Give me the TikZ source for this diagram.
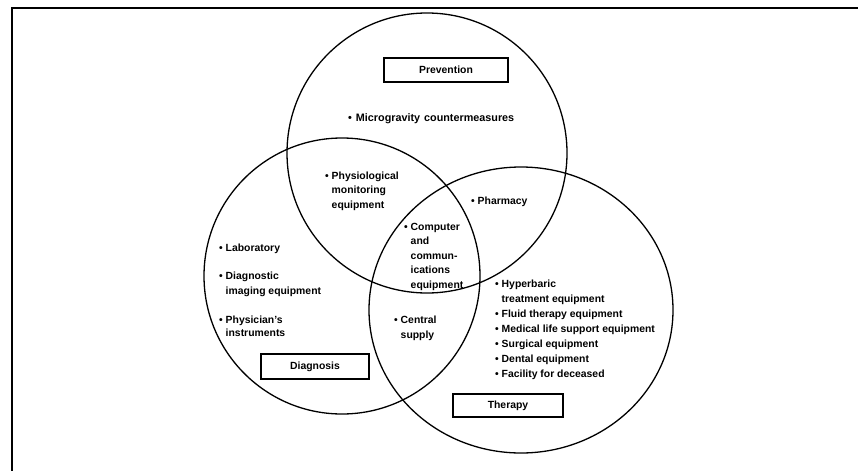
\documentclass[tikz,border=0pt]{standalone}
\usepackage{fontspec}
\setmainfont{Liberation Sans}
\begin{document}
\begin{tikzpicture}[x=1pt,y=-1pt,
  ring/.style={line width=1.3pt},
  framebar/.style={line width=1.6pt},
  labelbox/.style={draw,line width=1.3pt,inner sep=0pt,font=\fontsize{10.4}{14.5}\selectfont\bfseries},
  item/.style={anchor=base west,inner sep=0pt,align=left,font=\fontsize{10.4}{14.5}\selectfont\bfseries}]
\useasboundingbox (0,0) rectangle (858,471);
% frame (top and left edges)
\coordinate (ftr) at (858,8);
\coordinate (ftl) at (12,8);
\coordinate (fbl) at (12,471);
\draw[framebar] (ftr) -- (ftl) -- (fbl);
% the three sets
\draw[ring] (427,153) circle [radius=140pt];
\draw[ring] (342,276) circle [radius=138pt];
\draw[ring] (521,310) ellipse [x radius=152pt, y radius=143pt];
% set labels
\node[labelbox,minimum width=124pt,minimum height=24pt] (prev) at (446,70) {Prevention};
\node[labelbox,minimum width=108pt,minimum height=25pt] (diag) at (315,366.5) {Diagnosis};
\node[labelbox,minimum width=110pt,minimum height=23pt] (ther) at (508,405.5) {Therapy};
% items (base anchor = baseline of the last line)
\newcommand{\bsp}{\hphantom{•\ }}
\node[item,font={\fontsize{10.8}{14.5}\selectfont\bfseries\spaceskip=4pt\relax}] (micro) at (348,121) {• Microgravity countermeasures};
\node[item] (phys) at (325,208) {• Physiological\\\bsp monitoring\\\bsp equipment};
\node[item] (pharm) at (471,204) {• Pharmacy};
\node[item] (comp) at (404,288) {• Computer\\\bsp and\\\bsp commun-\\\bsp ications\\\bsp equipment};
\node[item] (lab) at (219,251) {• Laboratory};
\node[item,font=\fontsize{10.4}{15}\selectfont\bfseries] (dimg) at (219,294) {• Diagnostic\\\bsp imaging equipment};
\node[item,font=\fontsize{10.4}{13.5}\selectfont\bfseries] (phyi) at (219,336.5) {• Physician's\\\bsp instruments};
\node[item,font=\fontsize{10.4}{15}\selectfont\bfseries] (cent) at (394,338) {• Central\\\bsp supply};
\node[item,font=\fontsize{10.4}{15}\selectfont\bfseries] (tlist) at (495,377) {• Hyperbaric\\\bsp treatment equipment\\• Fluid therapy equipment\\• Medical life support equipment\\• Surgical equipment\\• Dental equipment\\• Facility for deceased};
\end{tikzpicture}
\end{document}
